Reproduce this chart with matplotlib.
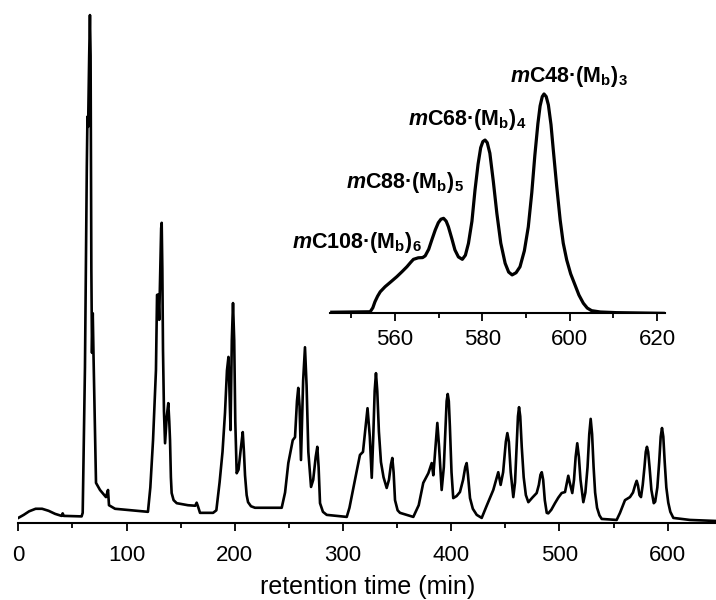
import matplotlib

matplotlib.use("Agg")
import matplotlib.pyplot as plt
from matplotlib.ticker import MultipleLocator

plt.rcParams["font.family"] = ["Liberation Sans", "DejaVu Sans"]
plt.rcParams["mathtext.fontset"] = "custom"
plt.rcParams["mathtext.rm"] = "Liberation Sans"
plt.rcParams["mathtext.it"] = "Liberation Sans:italic"
plt.rcParams["mathtext.bf"] = "Liberation Sans:bold"
plt.rcParams["mathtext.bfit"] = "Liberation Sans:bold:italic"

# full chromatogram (time in min, signal in a.u.)
main_time = [
    0, 5, 10, 16, 22, 28, 34, 40, 41, 42, 58.5,
    # cluster 1
    59.5, 61.6, 63.3, 63.9, 64.5, 65.5, 66.2, 66.8, 67.5, 68.1, 68.8, 69.5, 71.8,
    75.5, 81, 82.9, 83.8, 89.4, 119.8,
    # cluster 2
    122, 124.5, 127.2, 128.2, 129.3, 130.2, 131.2, 132.0, 132.5, 133.1, 133.7,
    134.6, 135.6, 137.2, 138.6, 139.5, 140.2, 141.0, 141.7, 143.5, 146.4, 156.8,
    163.5, 164.8, 166, 167.9, 180,
    # cluster 3
    183, 186, 188.7, 191.0, 192.8, 194.2, 195, 196.1, 197.3, 198.4, 199.5, 200.5,
    201.8, 203.5, 205.8, 207.4, 208.5, 209.5, 211, 212.3, 215, 218.7, 243.4,
    # cluster 4
    246.5, 249.5, 253.6, 255.7, 257.5, 258.7, 259.9, 261.2, 263.2, 264.9, 266.4,
    268, 270.5, 272.5, 274.8, 276.3, 277.5, 278.8, 281.5, 285, 303.5,
    # cluster 5
    306, 309.3, 312.5, 315.7, 318.5, 320.5, 322.7, 324.8, 326.6, 328, 329.3,
    330.5, 331.7, 333.2, 335.1, 337.5, 340.4, 342.5, 344.3, 345.6, 346.8, 348.1,
    350.5, 352.7, 365,
    # cluster 6
    370, 374.2, 378.9, 382.0, 383.5, 385.5, 387.2, 388.8, 391.2, 393.2, 394.8,
    395.8, 396.8, 397.8, 398.8, 400.3, 401.9, 405, 408.1, 411, 413, 414.3, 415.5,
    417.4, 420, 423.6, 428.2,
    # cluster 7
    433, 438.9, 441.5, 443.5, 445.7, 448, 450.5, 451.9, 453.3, 455, 457.4, 459,
    460.5, 461.7, 462.7, 463.8, 465.2, 467, 469, 471.3, 475, 479.0, 481, 482.5,
    483.7, 485, 486.5, 488.3,
    # cluster 8
    489.7, 492.5, 495.9, 499, 502.1, 505.2, 507, 508.2, 509.5, 511.9, 513.5, 515,
    516.5, 518, 519.5, 522.1, 524, 526, 527.6, 528.9, 530.2, 531.6, 533, 534.8,
    537, 539.1, 552.9,
    # cluster 9
    556.0, 560.6, 565.2, 568, 570.2, 571.4, 572.6, 574, 575.4, 577, 578.6, 579.8,
    580.9, 582, 583.3, 585, 587.2, 588.5, 590.5, 592.2, 593.6, 594.8, 596, 597.3,
    598.8, 600.6, 602.5, 605.3, 620.7, 644.7,
]
main_signal = [
    1.0, 1.6, 2.3, 2.8, 2.8, 2.4, 1.8, 1.4, 1.9, 1.4, 1.3,
    # cluster 1
    2.0, 30.7, 70, 80, 78, 92, 100, 92, 50, 33.5, 41.3, 33, 7.9,
    6.5, 5.1, 6.5, 3.5, 2.8, 2.2,
    # cluster 2
    7, 16.3, 30.1, 44.9, 45, 40, 50, 58, 59.1, 50, 34.1,
    22, 15.7, 21, 23.6, 20, 16.3, 9, 5.9, 4.5, 3.9, 3.5,
    3.4, 4.0, 3.3, 2.0, 2.0,
    # cluster 3
    2.5, 8, 14, 21.7, 30, 32.7, 27, 18.3, 36, 43.3, 36, 20,
    9.8, 10.5, 15, 17.9, 14, 9.4, 5.5, 4.1, 3.3, 3.0, 3.0,
    # cluster 4
    6, 11.8, 16.3, 16.9, 24, 26.6, 23, 12.4, 28, 34.6, 27,
    14, 7.1, 8.5, 13, 15.0, 11, 3.9, 2.2, 1.6, 1.2,
    # cluster 5
    3, 6.5, 10, 13.4, 14.0, 18, 22.6, 17, 8.9, 17, 26,
    29.5, 26, 18, 12, 9, 6.9, 8.5, 11.5, 12.8, 10, 4.5,
    2.5, 2.0, 1.2,
    # cluster 6
    3.5, 7.9, 9.8, 11.8, 9.4, 15, 19.7, 15, 6.5, 11, 19,
    24, 25.4, 24, 19, 10, 4.9, 5.3, 6.1, 8.5, 11, 11.8, 9.5,
    4.9, 2.8, 1.6, 1.0,
    # cluster 7
    3.5, 6.5, 8.5, 10.0, 7.5, 10, 16, 17.7, 16, 10, 5.1, 8,
    15, 21, 22.8, 21, 15, 9, 5.5, 4.1, 5, 5.9, 7.5, 9.5,
    10.0, 8.5, 4.5, 2.0,
    # cluster 8
    1.9, 2.6, 3.9, 5, 5.9, 6.1, 8, 9.3, 8, 5.9, 8.5, 13,
    15.7, 13, 8.5, 4.1, 6, 11, 17.5, 20.5, 17.5, 11, 6, 3,
    1.5, 0.8, 0.6,
    # cluster 9
    2.0, 4.5, 5.1, 6, 7.6, 8.3, 7.4, 5.5, 5.1, 7.5, 11, 14,
    15.0, 14, 11, 6.5, 3.9, 4.2, 7, 12, 17, 18.7, 17, 12,
    7, 4.0, 2.2, 1.0, 0.6, 0.4,
]

# zoom on the last cluster
inset_time = [
    545.5, 554.3, 554.9, 555.4, 556.0, 556.6, 557.7, 559, 560.4, 561.6, 562.7,
    563.6, 564.2, 565.3, 566.3, 566.9, 567.7, 568.4, 569.2, 569.9, 570.5, 571.1,
    571.7, 572.2, 573.0, 573.7, 574.5, 575.4, 576.1, 576.8, 577.6, 578.3, 579.0,
    579.6, 580.1, 580.6, 581.1, 581.7, 582.5, 583.3, 584.2, 585.2, 586.0, 586.8,
    587.7, 588.6, 589.6, 590.5, 591.3, 592.0, 592.7, 593.2, 593.7, 594.1, 594.6,
    595.1, 595.7, 596.2, 597.0, 597.8, 598.5, 599.3, 600.2, 601.2, 602.1, 603.1,
    604.0, 605.0, 607, 610.7, 621.4,
]
inset_signal = [
    0.5, 0.7, 2.5, 5.3, 7.8, 9.8, 12.1, 14.3, 16.7, 19, 21.2,
    23.3, 24.6, 25.3, 25.4, 26.2, 29.2, 33.4, 38, 41.3, 42.9, 43.3,
    42, 39.5, 34, 28.9, 25.7, 24.6, 26.5, 31.9, 42, 56.2, 68,
    75.5, 78.3, 79.0, 77.8, 73, 60, 45.6, 32, 22.8, 18.8, 17.5,
    18.5, 21.2, 28.5, 39.4, 55, 72, 86.5, 94.5, 98.8, 100, 98.8,
    95, 86, 75, 58, 42.5, 32, 24.3, 18, 12.9, 8.3, 4.6,
    2.4, 1.2, 0.6, 0.3, 0.0,
]

label_texts = [
    r"$\mathbfit{m}\mathbf{C48·(M_{b})_{3}}$",
    r"$\mathbfit{m}\mathbf{C68·(M_{b})_{4}}$",
    r"$\mathbfit{m}\mathbf{C88·(M_{b})_{5}}$",
    r"$\mathbfit{m}\mathbf{C108·(M_{b})_{6}}$",
]
label_x = [599.8, 576.4, 562.3, 551.2]
label_y = [105.6, 85.9, 57.0, 29.6]


def style_axis(ax, major, minor, size, pad):
    for side in ("left", "right", "top"):
        ax.spines[side].set_visible(False)
    ax.spines["bottom"].set_linewidth(1.5)
    ax.set_yticks([])
    ax.xaxis.set_major_locator(MultipleLocator(major))
    ax.xaxis.set_minor_locator(MultipleLocator(minor))
    ax.tick_params(axis="x", which="major", direction="out", length=5.5, width=1.3,
                   labelsize=size, pad=pad)
    ax.tick_params(axis="x", which="minor", direction="out", length=3.5, width=1.3)
    ax.patch.set_alpha(0)


def main() -> None:
    fig = plt.figure(figsize=(7.16, 6.0), dpi=100)

    ax = fig.add_axes([18.3 / 716, 77 / 600, 697.7 / 716, 513 / 600])
    ax.plot(main_time, main_signal, color="black", lw=1.9, solid_joinstyle="round")
    ax.set_xlim(0, 644.7)
    ax.set_ylim(0, 101)
    style_axis(ax, 100, 50, 16, 10)
    ax.set_xlabel("retention time (min)", fontsize=18, labelpad=7)

    axin = fig.add_axes([330 / 716, 286.7 / 600, 335 / 716, 230.3 / 600])
    axin.plot(inset_time, inset_signal, color="black", lw=2.3, solid_joinstyle="round")
    axin.set_xlim(545.1, 621.8)
    axin.set_ylim(0, 105)
    style_axis(axin, 20, 10, 16, 6)
    for txt, x, y in zip(label_texts, label_x, label_y):
        axin.text(x, y, txt, fontsize=15.5, ha="center", va="baseline", clip_on=False)

    fig.savefig("out.png", dpi=100)
    plt.close(fig)


if __name__ == "__main__":
    main()
